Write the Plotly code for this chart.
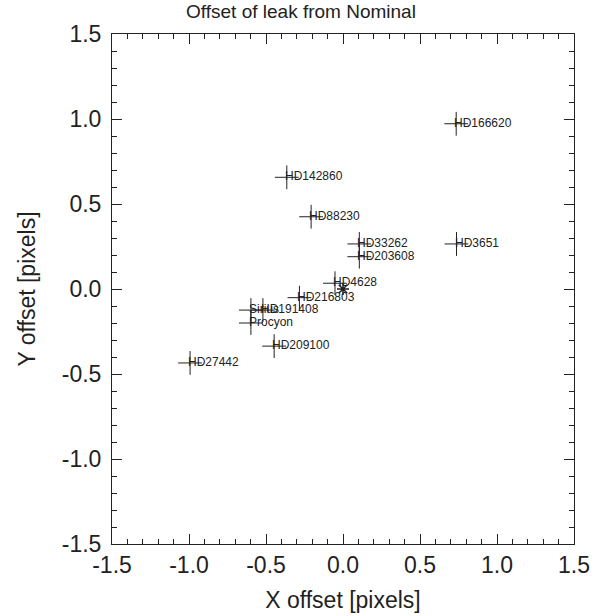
import plotly.graph_objects as go

# star names and their offsets from nominal (pixels)
names = ["HD166620", "HD142860", "HD88230", "HD33262", "HD203608", "HD3651",
         "HD4628", "HD216803", "Sirius", "HD191408", "Procyon", "HD209100", "HD27442"]
x_off = [0.735, -0.365, -0.207, 0.106, 0.106, 0.737,
         -0.052, -0.283, -0.598, -0.52, -0.598, -0.447, -0.993]
y_off = [0.972, 0.657, 0.425, 0.265, 0.19, 0.265,
         0.034, -0.051, -0.124, -0.124, -0.2, -0.336, -0.435]

# nominal position
nom_x = [0.0]
nom_y = [0.0]

tick_vals = [-1.5, -1.0, -0.5, 0.0, 0.5, 1.0, 1.5]
tick_text = ["-1.5", "-1.0", "-0.5", "0.0", "0.5", "1.0", "1.5"]

font = "Liberation Sans, Arial, Helvetica, sans-serif"
ink = "#222222"

fig = go.Figure()

fig.add_trace(go.Scatter(
    x=x_off, y=y_off, mode="markers",
    marker=dict(symbol="cross-thin", size=17, line=dict(color=ink, width=1)),
    hoverinfo="skip"))

fig.add_trace(go.Scatter(
    x=nom_x, y=nom_y, mode="markers",
    marker=dict(symbol="asterisk", size=10, line=dict(color=ink, width=1.5)),
    hoverinfo="skip"))

# star labels start at the cross centre
for n, xv, yv in zip(names, x_off, y_off):
    fig.add_annotation(x=xv, y=yv, text=n, showarrow=False,
                       xanchor="left", yanchor="middle", xshift=-4, yshift=1,
                       font=dict(family=font, size=12, color=ink))

axis = dict(range=[-1.5, 1.5], tickvals=tick_vals, ticktext=tick_text,
            ticks="inside", ticklen=10, tickcolor=ink, tickwidth=1,
            minor=dict(dtick=0.1, ticks="inside", ticklen=5, tickcolor=ink),
            showline=True, linecolor=ink, linewidth=1, mirror="ticks",
            showgrid=False, zeroline=False, automargin=False,
            tickfont=dict(family=font, size=23, color=ink))

fig.update_layout(
    width=602, height=616,
    paper_bgcolor="white", plot_bgcolor="white",
    showlegend=False,
    margin=dict(l=112, r=28, t=34, b=72),
    title=dict(text="Offset of leak from Nominal", x=0.5, xref="container",
               xanchor="center", y=0.992, yanchor="top",
               font=dict(family=font, size=19, color=ink)),
    xaxis=dict(axis, title=dict(text="X offset [pixels]", standoff=15,
                                font=dict(family=font, size=23, color=ink))),
    yaxis=dict(axis, ticklabelstandoff=5,
               title=dict(text="Y offset [pixels]", standoff=19,
                          font=dict(family=font, size=23, color=ink))),
)

fig.write_html("out.html", config={"displayModeBar": False},
               post_script="document.body.style.margin='0';")
